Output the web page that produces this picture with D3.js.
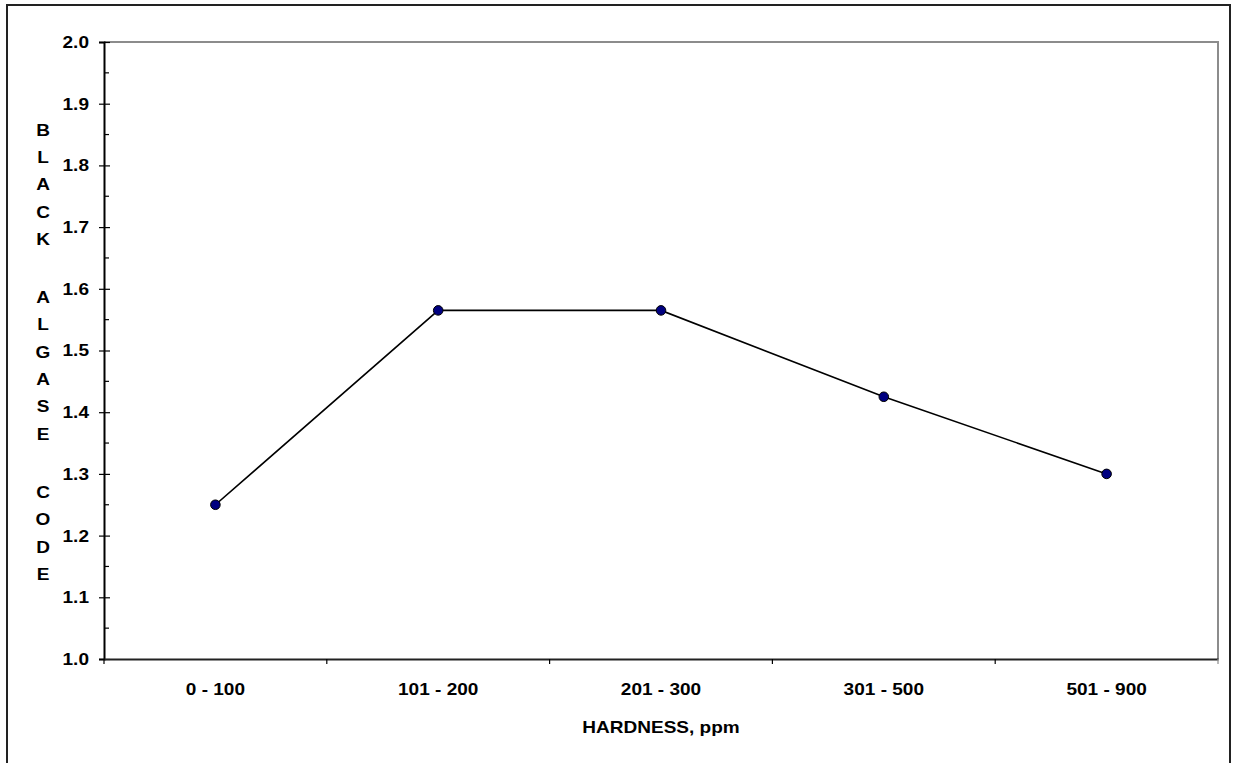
<!DOCTYPE html>
<html>
<head>
<meta charset="utf-8">
<script src="https://cdn.jsdelivr.net/npm/d3@7"></script>
<style>
  html, body { margin: 0; padding: 0; background: #fff; }
  svg { display: block; }
  text { font-family: "Liberation Sans", Arial, sans-serif; font-weight: bold; fill: #000; }
</style>
</head>
<body>
<svg id="chart" width="1235" height="763"></svg>
<script>
// ---- data ----
const categories = ["0 - 100", "101 - 200", "201 - 300", "301 - 500", "501 - 900"];
const values = [1.25, 1.565, 1.565, 1.425, 1.30];
const yTickValues = [1.0, 1.1, 1.2, 1.3, 1.4, 1.5, 1.6, 1.7, 1.8, 1.9, 2.0];
const yMinorTickValues = [1.05, 1.15, 1.25, 1.35, 1.45, 1.55, 1.65, 1.75, 1.85, 1.95];
const yTitle = "BLACK ALGASE CODE";
const xTitle = "HARDNESS, ppm";

// ---- layout ----
const W = 1235, H = 763;
const plot = { left: 104, top: 42, right: 1218, bottom: 659 };
const stretch = 1.12; // horizontal text stretch as in the original

const svg = d3.select("#chart");

// outer frame
svg.append("rect")
  .attr("x", 7).attr("y", 5)
  .attr("width", 1223).attr("height", 790)
  .attr("fill", "none").attr("stroke", "#222").attr("stroke-width", 2);

const x = d3.scaleBand().domain(categories).range([plot.left, plot.right]).padding(0);
const y = d3.scaleLinear().domain([1.0, 2.0]).range([plot.bottom, plot.top]);

// plot area top/right border (gray)
svg.append("path")
  .attr("d", `M${plot.left},${plot.top}H${plot.right}V${plot.bottom}`)
  .attr("fill", "none").attr("stroke", "#8c8c8c").attr("stroke-width", 2);

// Y axis
const yAxis = svg.append("g")
  .attr("transform", `translate(${plot.left},0)`)
  .call(d3.axisLeft(y).tickValues(yTickValues).tickFormat(d3.format(".1f")).tickSize(5).tickPadding(10));
yAxis.select(".domain").attr("stroke", "#000").attr("stroke-width", 2);
yAxis.selectAll(".tick line").attr("x1", 6).attr("x2", -5).attr("stroke", "#000").attr("stroke-width", 1.2);
yAxis.selectAll(".tick text")
  .attr("font-size", 17).attr("font-family", null)
  .attr("transform", `scale(${stretch},1)`)
  .attr("x", -15 / stretch);
// minor ticks (inside)
yAxis.selectAll(".minor").data(yMinorTickValues).enter().append("line")
  .attr("class", "minor")
  .attr("x1", 0).attr("x2", 5)
  .attr("y1", d => y(d)).attr("y2", d => y(d))
  .attr("stroke", "#000").attr("stroke-width", 1.2);

// X axis
const xAxis = svg.append("g")
  .attr("transform", `translate(0,${plot.bottom})`)
  .call(d3.axisBottom(x).tickSize(0).tickPadding(24));
xAxis.select(".domain").attr("stroke", "#222").attr("stroke-width", 2);
xAxis.selectAll(".tick text")
  .attr("font-size", 17).attr("font-family", null)
  .each(function () {
    const t = d3.select(this);
    const g = d3.select(this.parentNode);
    t.attr("transform", `scale(${stretch},1)`);
  });
// boundary ticks
const edges = categories.map(c => x(c)).concat([x(categories[categories.length - 1]) + x.bandwidth()]);
xAxis.selectAll(".edge").data(edges).enter().append("line")
  .attr("class", "edge")
  .attr("x1", d => d).attr("x2", d => d)
  .attr("y1", 0).attr("y2", 5)
  .attr("stroke", (d, i) => i === edges.length - 1 ? "#8c8c8c" : "#000")
  .attr("stroke-width", 1.2);

// line
const line = d3.line()
  .x((d, i) => x(categories[i]) + x.bandwidth() / 2)
  .y(d => y(d));
svg.append("path")
  .datum(values)
  .attr("d", line)
  .attr("fill", "none").attr("stroke", "#000").attr("stroke-width", 1.6);

// markers
svg.selectAll(".pt").data(values).enter().append("circle")
  .attr("class", "pt")
  .attr("cx", (d, i) => x(categories[i]) + x.bandwidth() / 2)
  .attr("cy", d => y(d))
  .attr("r", 4.8)
  .attr("fill", "#000080").attr("stroke", "#000").attr("stroke-width", 1);

// Y title: stacked letters
const letters = yTitle.split("");
let yy = 130;
const pos = [];
letters.forEach((ch, i) => {
  if (i > 0) yy += (ch === " " ? 31 : 27.3);
  pos.push({ ch, y: yy });
});
svg.append("g").selectAll("text").data(pos.filter(p => p.ch !== " ")).enter().append("text")
  .attr("text-anchor", "middle")
  .attr("dominant-baseline", "central")
  .attr("font-size", 17)
  .attr("transform", d => `translate(43,${d.y}) scale(${stretch},1)`)
  .text(d => d.ch);

// X title
svg.append("text")
  .attr("text-anchor", "middle")
  .attr("font-size", 17)
  .attr("transform", `translate(${(plot.left + plot.right) / 2},733) scale(${stretch},1)`)
  .text(xTitle);
</script>
</body>
</html>
